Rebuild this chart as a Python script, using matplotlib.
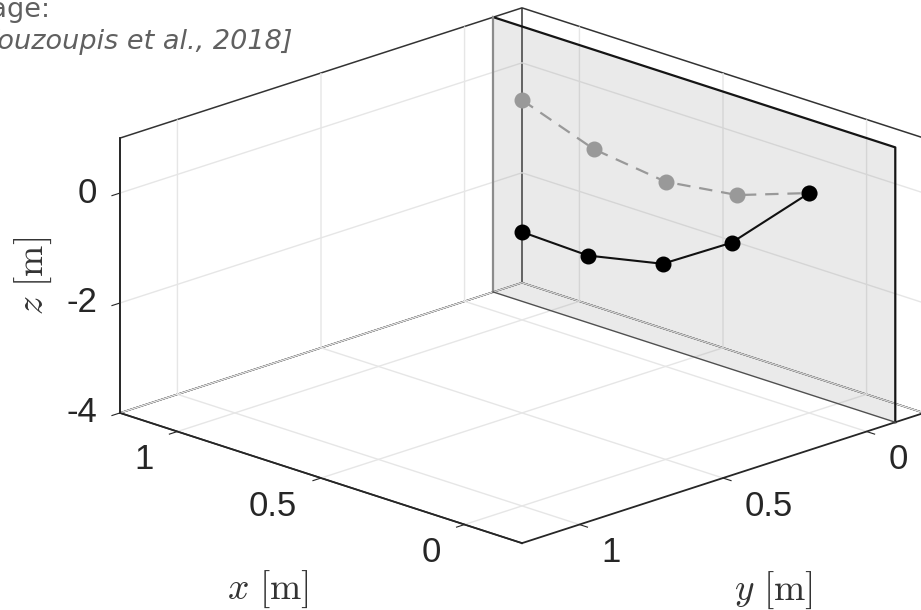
import numpy as np
import matplotlib.pyplot as plt
from matplotlib.transforms import IdentityTransform
from mpl_toolkits.mplot3d import proj3d
from mpl_toolkits.mplot3d.art3d import Poly3DCollection

# chain of masses, all nodes in the plane y = 0
x_rest = [1.0, 0.75, 0.5, 0.25, 0.0]
y_rest = [0.0, 0.0, 0.0, 0.0, 0.0]
z_rest = [0.0, -0.47, -0.64, -0.46, 0.0]      # grey, dashed

x_pert = [1.0, 0.77, 0.51, 0.27, 0.0]
y_pert = [0.0, 0.0, 0.0, 0.0, 0.0]
z_pert = [-2.40, -2.44, -2.15, -1.36, 0.0]    # black, solid

x_lim = [-0.2, 1.2]
y_lim = [-0.2, 1.2]
z_lim = [-4, 1]
x_ticks = [0, 0.5, 1]
y_ticks = [0, 0.5, 1]
z_ticks = [-4, -2, 0]
x_ticklabels = ['0', '0.5', '1']
y_ticklabels = ['0', '0.5', '1']
z_ticklabels = ['-4', '-2', '0']
wall_y = -0.1

plt.rcParams['font.family'] = ['Liberation Sans', 'DejaVu Sans']
plt.rcParams['mathtext.fontset'] = 'cm'
plt.rcParams['grid.color'] = '#e6e6e6'
plt.rcParams['grid.linewidth'] = 1.0

W, H = 921, 610
fig = plt.figure(figsize=(W / 100, H / 100), dpi=100)
ax = fig.add_axes([0, 0, 1, 1], projection='3d', proj_type='ortho')
ax.computed_zorder = False
ax.view_init(elev=18.9, azim=135)
ax.set_box_aspect((1, 1, 0.511))

# grey wall
wall = [[(x_lim[0], wall_y, z_lim[0]), (x_lim[1], wall_y, z_lim[0]),
         (x_lim[1], wall_y, z_lim[1]), (x_lim[0], wall_y, z_lim[1])]]
ax.add_collection3d(Poly3DCollection(wall, facecolor=(0.5, 0.5, 0.5, 0.16),
                                     edgecolor='none', zorder=1))
ax.plot([x_lim[1], x_lim[0], x_lim[0]], [wall_y] * 3, [z_lim[1], z_lim[1], z_lim[0]],
        color='#151515', lw=1.6, zorder=2)
ax.plot([x_lim[1], x_lim[1]], [wall_y] * 2, z_lim, color='#8c8c8c', lw=1.6, zorder=2)
ax.plot(x_lim, [wall_y] * 2, [z_lim[0]] * 2, color='#505050', lw=1.0, zorder=2)

ax.plot(x_rest, y_rest, z_rest, color='#999999', ls=(0, (6, 4)), lw=1.6,
        marker='o', ms=10.5, mfc='#999999', mec='#999999', zorder=3)
ax.plot(x_pert, y_pert, z_pert, color='#111111', lw=1.5,
        marker='o', ms=10.5, mfc='#000000', mec='#000000', zorder=4)

ax.set_xlim(x_lim)
ax.set_ylim(y_lim)
ax.set_zlim(z_lim)
ax.set_xticks(x_ticks)
ax.set_yticks(y_ticks)
ax.set_zticks(z_ticks)
ax.set_xticklabels([])
ax.set_yticklabels([])
ax.set_zticklabels([])
ax.tick_params(colors='#262626')

for axis in (ax.xaxis, ax.yaxis, ax.zaxis):
    axis.pane.fill = False
    axis.pane.set_alpha(None)
    axis.pane.set_edgecolor((0.2, 0.2, 0.2, 1))
    axis.pane.set_linewidth(1.1)
    axis.line.set_color('#262626')
    axis.line.set_linewidth(1.3)
    axis._axinfo['tick']['inward_factor'] = 0.25
    axis._axinfo['tick']['outward_factor'] = 0.0

# fit the projected box to the reference frame (pixels)
target = (120, 924, H - 543, H - 8)
fig.canvas.draw()
corners = np.array([[a, b, c] for a in x_lim for b in y_lim for c in z_lim])


def to_pixels(xs, ys, zs):
    px, py, _ = proj3d.proj_transform(np.asarray(xs, float), np.asarray(ys, float),
                                      np.asarray(zs, float), ax.get_proj())
    return ax.transData.transform(np.column_stack([px, py]))


for _ in range(2):
    pts = to_pixels(corners[:, 0], corners[:, 1], corners[:, 2])
    pos = ax.get_position()
    side = pos.width * W
    cx, cy = (pos.x0 + pos.width / 2) * W, (pos.y0 + pos.height / 2) * H
    s = (target[1] - target[0]) / np.ptp(pts[:, 0])
    bx, by = pts[:, 0].mean(), (pts[:, 1].min() + pts[:, 1].max()) / 2
    tx, ty = (target[0] + target[1]) / 2, (target[2] + target[3]) / 2
    ncx = tx - s * (bx - cx)
    ncy = ty - s * (by - cy)
    nside = side * s
    ax.set_position([(ncx - nside / 2) / W, (ncy - nside / 2) / H, nside / W, nside / H])
    fig.canvas.draw()

# put the z axis on the front-left vertical edge
for where in ('lower', 'upper', 'default', 'both'):
    ax.zaxis.set_ticks_position(where)
    fig.canvas.draw()
    zl = ax.transData.transform(np.column_stack([ax.zaxis.line.get_xdata(),
                                                 ax.zaxis.line.get_ydata()]))
    if zl[:, 0].mean() < W / 2:
        break

# tick labels, MATLAB style offsets from the tick positions
tick_kw = dict(fontsize=25, color='#262626', va='center', transform=IdentityTransform())
n = len(x_ticks)
for (px, py), s in zip(to_pixels(x_ticks, [y_lim[1]] * n, [z_lim[0]] * n), x_ticklabels):
    fig.text(px - 24, py - 28, s, ha='right', **tick_kw)
n = len(y_ticks)
for (px, py), s in zip(to_pixels([x_lim[0]] * n, y_ticks, [z_lim[0]] * n), y_ticklabels):
    fig.text(px + 22, py - 28, s, ha='left', **tick_kw)
n = len(z_ticks)
for (px, py), s in zip(to_pixels([x_lim[1]] * n, [y_lim[1]] * n, z_ticks), z_ticklabels):
    fig.text(px - 23, py, s, ha='right', **tick_kw)

# axis labels (MATLAB keeps them horizontal)
lab_kw = dict(fontsize=27, color='#333333', ha='center', va='center')
fig.text(268 / W, 1 - 589 / H, r'$x\ [\mathrm{m}]$', **lab_kw)
fig.text(773 / W, 1 - 590 / H, r'$y\ [\mathrm{m}]$', **lab_kw)
fig.text(33 / W, 1 - 276 / H, r'$z\ [\mathrm{m}]$', rotation=90, **lab_kw)

fig.text(50 / W, 1 - 17 / H, 'Image:', ha='right', va='baseline',
         fontsize=19.5, family='DejaVu Sans', color='#606060')
fig.text(293 / W, 1 - 49 / H, '[Kouzoupis et al., 2018]', ha='right', va='baseline',
         fontsize=19.5, family='DejaVu Sans', style='italic', color='#606060')

fig.savefig('out.png', dpi=100)
